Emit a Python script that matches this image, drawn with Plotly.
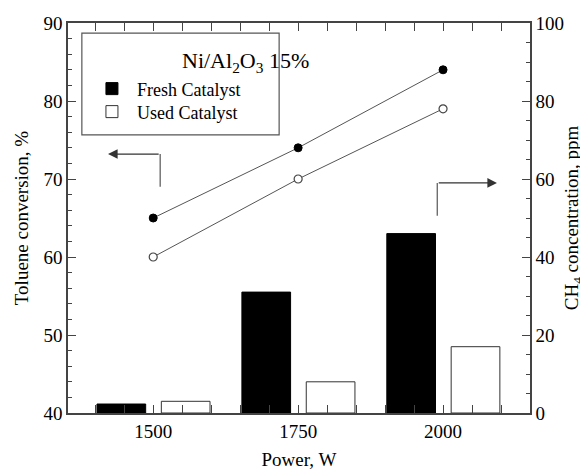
import plotly.graph_objects as go

# ---- data ----
power = [1500, 1750, 2000]
toluene_fresh = [65, 74, 84]
toluene_used = [60, 70, 79]
ch4_fresh = [2.3, 31, 46]
ch4_used = [3, 8, 17]
series_names = ["Fresh Catalyst", "Used Catalyst"]
legend_title = "Ni/Al<sub>2</sub>O<sub>3</sub> 15%"
x_title = "Power, W"
y1_title = "Toluene conversion, %"
y2_title = "CH<sub>4</sub> concentration, ppm"

FONT = "Liberation Serif"
AX = "#444"

fig = go.Figure()

# bars on right axis
fig.add_trace(go.Bar(x=power, y=ch4_fresh, name=series_names[0], yaxis="y2",
                     width=84, offset=-97, legend="legend",
                     marker=dict(color="black", line=dict(color="black", width=1))))
fig.add_trace(go.Bar(x=power, y=ch4_used, name=series_names[1], yaxis="y2",
                     width=84, offset=14, legend="legend2",
                     marker=dict(color="white", line=dict(color="#333", width=1))))

# lines on left axis
fig.add_trace(go.Scatter(x=power, y=toluene_fresh, mode="lines+markers", showlegend=False,
                         line=dict(color="#555", width=1),
                         marker=dict(size=8, color="black", line=dict(color="black", width=1))))
fig.add_trace(go.Scatter(x=power, y=toluene_used, mode="lines+markers", showlegend=False,
                         line=dict(color="#555", width=1),
                         marker=dict(size=8, color="white", line=dict(color="#444", width=1.2))))

axis_common = dict(showline=True, linecolor=AX, linewidth=1.5, ticks="inside",
                   tickcolor=AX, ticklen=8, tickwidth=1.2, showgrid=False, zeroline=False,
                   automargin=False,
                   tickfont=dict(family=FONT, size=19, color="black"),
                   title_font=dict(family=FONT, size=19, color="black"))

legend_common = dict(xanchor="left", yanchor="middle", bgcolor="rgba(0,0,0,0)",
                     borderwidth=0, itemwidth=40,
                     font=dict(family=FONT, size=18, color="black"))

# page has an 8px body margin, so the figure is 8px smaller than the window
fig.update_layout(
    width=580, height=462,
    margin=dict(l=60, r=58, t=15, b=57, autoexpand=False),
    paper_bgcolor="white", plot_bgcolor="white",
    barmode="overlay",
    font=dict(family=FONT, size=18, color="black"),
    xaxis=dict(range=[1353, 2150], tickvals=power, mirror="allticks",
               minor=dict(dtick=50, tick0=1500, ticklen=4, tickcolor=AX, ticks="inside"),
               title=dict(text=x_title, standoff=13), **axis_common),
    yaxis=dict(range=[40, 90], dtick=10, mirror=False,
               minor=dict(dtick=2, ticklen=4, tickcolor=AX, ticks="inside"),
               title=dict(text=y1_title, standoff=10), **axis_common),
    yaxis2=dict(range=[0, 100], dtick=20, overlaying="y", side="right",
                minor=dict(dtick=5, ticklen=4, tickcolor=AX, ticks="inside"),
                title=dict(text=y2_title, standoff=2), **axis_common),
    legend=dict(x=0.041, y=0.831, **legend_common),
    legend2=dict(x=0.041, y=0.772, **legend_common),
    showlegend=True,
)

# legend frame and title
fig.add_shape(type="rect", xref="paper", yref="paper", x0=0.030, x1=0.457, y0=0.713, y1=0.974,
              line=dict(color="#555", width=1.2), fillcolor="rgba(0,0,0,0)")
fig.add_annotation(xref="paper", yref="paper", x=0.242, y=0.9, yanchor="middle",
                   text=legend_title, showarrow=False,
                   font=dict(family=FONT, size=22, color="black"))

# arrows: left (to left axis) and right (to right axis)
fig.add_shape(type="line", xref="x", yref="y", x0=1512, x1=1512, y0=69, y1=73.2,
              line=dict(color="#555", width=1.2))
fig.add_annotation(xref="x", yref="y", axref="x", ayref="y", x=1422, y=73.2, ax=1512, ay=73.2,
                   text="", showarrow=True, arrowhead=2, arrowsize=1.6, arrowwidth=1.2,
                   arrowcolor="#333")
fig.add_shape(type="line", xref="x", yref="y", x0=1990, x1=1990, y0=65.3, y1=69.5,
              line=dict(color="#555", width=1.2))
fig.add_annotation(xref="x", yref="y", axref="x", ayref="y", x=2093, y=69.5, ax=1990, ay=69.5,
                   text="", showarrow=True, arrowhead=2, arrowsize=1.6, arrowwidth=1.2,
                   arrowcolor="#333")

fig.write_html("out.html")
